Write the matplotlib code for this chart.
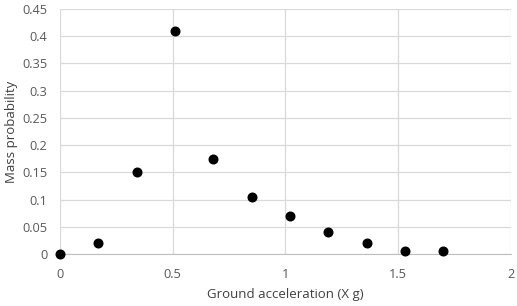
import matplotlib
matplotlib.use("Agg")
import matplotlib.pyplot as plt

# ground acceleration bins (X g) and mass probability
accel = [0.0, 0.17, 0.34, 0.51, 0.68, 0.85, 1.02, 1.19, 1.36, 1.53, 1.70]
prob = [0.0, 0.02, 0.15, 0.41, 0.175, 0.105, 0.07, 0.04, 0.02, 0.005, 0.005]
xticks = [0, 0.5, 1, 1.5, 2]
xticklabels = ["0", "0.5", "1", "1.5", "2"]
yticks = [0, 0.05, 0.1, 0.15, 0.2, 0.25, 0.3, 0.35, 0.4, 0.45]
yticklabels = ["0", "0.05", "0.1", "0.15", "0.2", "0.25", "0.3", "0.35", "0.4", "0.45"]

plt.rcParams["font.family"] = ["Open Sans", "DejaVu Sans"]
fig = plt.figure(figsize=(5.17, 3.06), dpi=100)
ax = fig.add_axes([0.116, 0.170, 0.872, 0.801])

ax.plot(accel, prob, "o", color="black", ms=6.2, zorder=3, clip_on=False)

ax.set_xlim(0, 2); ax.set_ylim(0, 0.45)
ax.set_xticks(xticks); ax.set_xticklabels(xticklabels)
ax.set_yticks(yticks); ax.set_yticklabels(yticklabels)
ax.grid(True, color="#d9d9d9", lw=0.9)
ax.set_axisbelow(True)
for s in ("top", "right", "left"):
    ax.spines[s].set_visible(False)
ax.spines["bottom"].set_color("#bfbfbf")
ax.tick_params(length=0, labelsize=9.2, labelcolor="#595959")
ax.tick_params(axis="x", pad=10)
ax.tick_params(axis="y", pad=9)
ax.set_xlabel("Ground acceleration (X g)", fontsize=9.5, color="#404040", labelpad=5)
ax.set_ylabel("Mass probability", fontsize=9.5, color="#404040", labelpad=3)

fig.savefig("out.png", dpi=100)
